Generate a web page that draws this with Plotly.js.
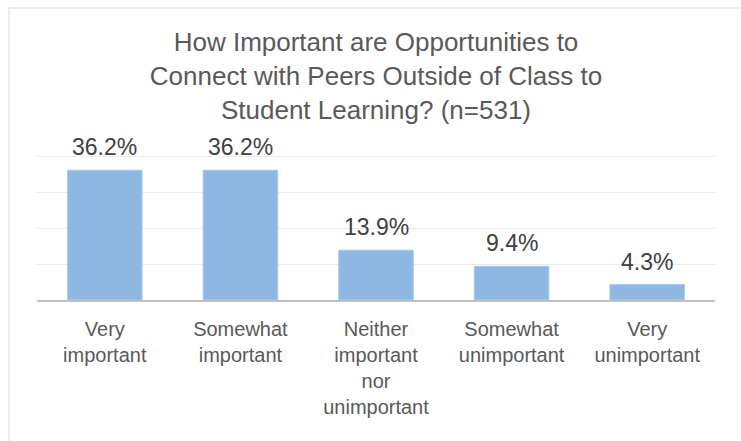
<!DOCTYPE html>
<html>
<head>
<meta charset="utf-8">
<script src="https://cdn.plot.ly/plotly-3.0.1.min.js"></script>
<style>
  html, body { margin: 0; padding: 0; background: #ffffff; }
  #chart { width: 741px; height: 441px; }
</style>
</head>
<body>
<div id="chart"></div>
<script>
const categories = [
  "Very<br>important",
  "Somewhat<br>important",
  "Neither<br>important<br>nor<br>unimportant",
  "Somewhat<br>unimportant",
  "Very<br>unimportant"
];
const values = [36.2, 36.2, 13.9, 9.4, 4.3];
const valueLabels = ["36.2%", "36.2%", "13.9%", "9.4%", "4.3%"];
const gridValues = [10, 20, 30, 40];
const titleText = "How Important are Opportunities to<br>Connect with Peers Outside of Class to<br>Student Learning? (n=531)";

const FONT = "'Liberation Sans', Arial, sans-serif";

const trace = {
  type: "bar",
  x: categories,
  y: values,
  marker: { color: "#8db8e2", line: { color: "#a9cbec", width: 1 } },
  hoverinfo: "skip"
};

const annotations = categories.map((c, i) => ({
  x: c, y: values[i], xref: "x", yref: "y",
  text: valueLabels[i], showarrow: false,
  yanchor: "bottom", yshift: 8,
  font: { family: FONT, size: 23, color: "#404040" }
}));

const layout = {
  width: 741, height: 441,
  paper_bgcolor: "#ffffff", plot_bgcolor: "#ffffff",
  margin: { l: 37, r: 26, t: 153, b: 141 },
  bargap: 0.45,
  showlegend: false,
  font: { family: FONT, color: "#595959" },
  title: {
    text: titleText,
    x: 0.5, xref: "paper", xanchor: "center",
    y: 1 - 51 / 441, yref: "container", yanchor: "middle",
    font: { family: FONT, size: 26, color: "#595959" }
  },
  xaxis: {
    type: "category",
    showgrid: false,
    showline: true, linecolor: "#bfbfbf", linewidth: 2,
    ticks: "",
    ticklabelstandoff: 10,
    tickfont: { family: FONT, size: 20, color: "#595959" },
    fixedrange: true
  },
  yaxis: {
    range: [0, 41], tickvals: gridValues,
    showticklabels: false, ticks: "",
    showgrid: true, gridcolor: "#ebebeb", gridwidth: 1,
    zeroline: false, showline: false,
    fixedrange: true
  },
  annotations: annotations,
  shapes: [{
    type: "rect", xref: "paper", yref: "paper",
    x0: (9 - 37) / 678, x1: (760 - 37) / 678,
    y0: (300 - 460) / 147, y1: (300 - 8) / 147,
    line: { color: "#d9d9d9", width: 1 },
    fillcolor: "rgba(0,0,0,0)",
    layer: "below"
  }]
};

Plotly.newPlot("chart", [trace], layout, { displayModeBar: false, staticPlot: true });
</script>
</body>
</html>
